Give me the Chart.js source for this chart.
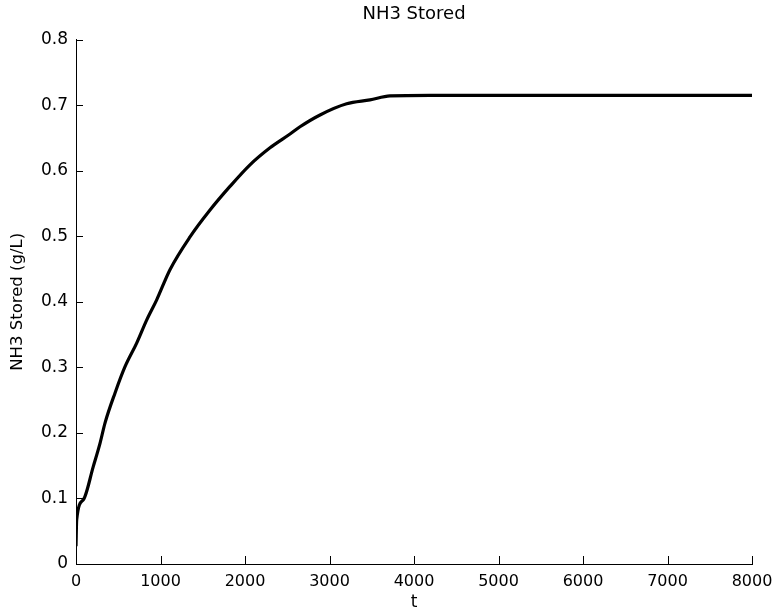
<!DOCTYPE html>
<html>
<head>
<meta charset="utf-8">
<script src="https://cdn.jsdelivr.net/npm/chart.js@4/dist/chart.umd.min.js"></script>
<style>
  html, body { margin: 0; padding: 0; background: #ffffff; }
  #wrap { width: 775px; height: 616px; }
</style>
</head>
<body>
<div id="wrap"><canvas id="c" width="775" height="616"></canvas></div>
<script>
// ---- Data ----
const timeValues = [0, 8, 87, 205, 284, 343, 462, 580, 718, 836, 955, 1112, 1349, 1586, 1822, 2059, 2296, 2533, 2651, 2888, 3203, 3479, 3716, 4189, 5000, 6000, 7000, 8000];
const nh3Stored  = [0.027, 0.0675, 0.098, 0.149, 0.184, 0.215, 0.261, 0.301, 0.337, 0.372, 0.403, 0.449, 0.499, 0.540, 0.576, 0.609, 0.635, 0.656, 0.667, 0.685, 0.702, 0.708, 0.714, 0.715, 0.715, 0.715, 0.715, 0.715];
const xTicks = [0, 1000, 2000, 3000, 4000, 5000, 6000, 7000, 8000];
const yTicks = [0, 0.1, 0.2, 0.3, 0.4, 0.5, 0.6, 0.7, 0.8];
const chartTitle = 'NH3 Stored';
const xTitle = 't';
const yTitle = 'NH3 Stored (g/L)';

const points = timeValues.map((t, i) => ({ x: t, y: nh3Stored[i] }));
const FONT = 'DejaVu Sans';

// inward tick marks drawn from the library's scales
const inwardTicks = {
  id: 'inwardTicks',
  afterDatasetsDraw(chart) {
    const { ctx, chartArea, scales } = chart;
    ctx.save();
    ctx.strokeStyle = '#000';
    ctx.lineWidth = 1;
    ctx.beginPath();
    xTicks.forEach(v => {
      const px = Math.round(scales.x.getPixelForValue(v)) + 0.5;
      ctx.moveTo(px, chartArea.bottom);
      ctx.lineTo(px, chartArea.bottom - 8);
    });
    yTicks.forEach(v => {
      const py = Math.round(scales.y.getPixelForValue(v)) + 0.5;
      ctx.moveTo(chartArea.left, py);
      ctx.lineTo(chartArea.left + 7, py);
    });
    ctx.stroke();
    ctx.restore();
  }
};

new Chart(document.getElementById('c'), {
  type: 'line',
  data: {
    datasets: [{
      data: points,
      borderColor: '#000000',
      borderWidth: 3.2,
      pointRadius: 0,
      cubicInterpolationMode: 'monotone',
      fill: false
    }]
  },
  options: {
    responsive: false,
    animation: false,
    layout: { padding: { left: 0, right: 23, top: 0, bottom: 0 } },
    plugins: {
      legend: { display: false },
      tooltip: { enabled: false },
      title: {
        display: true,
        fullSize: false,
        text: chartTitle,
        color: '#000',
        font: { family: FONT, size: 18, weight: 'normal' },
        padding: { top: 4, bottom: 14 }
      }
    },
    scales: {
      x: {
        type: 'linear',
        min: 0,
        max: 8000,
        afterBuildTicks: s => { s.ticks = xTicks.map(v => ({ value: v })); },
        afterFit: s => { s.height = 52; s.paddingLeft = 0; s.paddingRight = 0; },
        grid: { display: true, drawOnChartArea: false, drawTicks: false },
        border: { display: true, color: '#000', width: 1 },
        ticks: {
          color: '#000',
          padding: 8,
          maxRotation: 0,
          font: { family: FONT, size: 16 },
          callback: v => String(v)
        },
        title: {
          display: true,
          text: xTitle,
          color: '#000',
          font: { family: FONT, size: 17 },
          padding: { top: 0, bottom: 3 }
        }
      },
      y: {
        type: 'linear',
        min: 0,
        max: 0.8,
        afterBuildTicks: s => { s.ticks = yTicks.map(v => ({ value: v })); },
        afterFit: s => { s.width = 76; s.paddingTop = 0; s.paddingBottom = 0; },
        grid: { display: true, drawOnChartArea: false, drawTicks: false },
        border: { display: true, color: '#000', width: 1 },
        ticks: {
          color: '#000',
          padding: 8,
          font: { family: FONT, size: 17 },
          callback: v => String(Math.round(v * 10) / 10)
        },
        title: {
          display: true,
          text: yTitle,
          color: '#000',
          font: { family: FONT, size: 16.5 },
          padding: { top: 8, bottom: 0 }
        }
      }
    }
  },
  plugins: [inwardTicks]
});
</script>
</body>
</html>
